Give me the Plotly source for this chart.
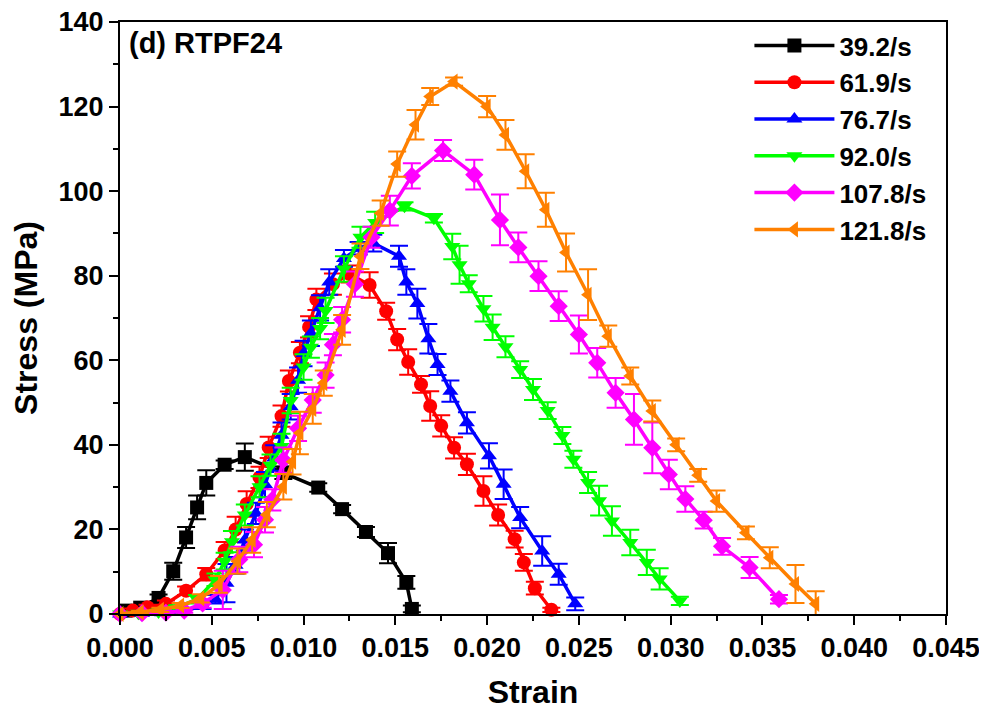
import plotly.graph_objects as go

# strain (x) / stress in MPa (y) / error bar (MPa) for each strain rate
x_39 = [0.0003, 0.0011, 0.0021, 0.0029, 0.0036, 0.0042, 0.0047, 0.0057, 0.0068, 0.0089,
        0.0108, 0.0121, 0.0134, 0.0146, 0.0156, 0.0159]
y_39 = [0.8, 1.5, 3.8, 10.1, 18.1, 25.2, 31.0, 35.3, 37.1, 33.4, 29.9, 24.8, 19.4, 14.4, 7.5, 1.2]
e_39 = [0.3, 0.5, 0.8, 2.0, 2.5, 2.8, 3.0, 1.0, 3.2, 1.5, 1.0, 1.0, 1.2, 2.4, 1.5, 0.8]

x_62 = [0.0000, 0.0007, 0.0015, 0.0025, 0.0036, 0.0047, 0.0057, 0.0063, 0.0069, 0.0076,
        0.0081, 0.0088, 0.0092, 0.0098, 0.0103, 0.0107, 0.0116, 0.0125, 0.0136, 0.0145,
        0.0151, 0.0157, 0.0164, 0.0169, 0.0175, 0.0182, 0.0189, 0.0198, 0.0206, 0.0215,
        0.0220, 0.0226, 0.0235]
y_62 = [0.0, 0.8, 1.6, 2.4, 5.5, 9.4, 15.0, 20.0, 26.0, 32.3, 39.4, 46.8, 55.1, 61.8, 67.9,
        74.4, 78.0, 80.4, 77.8, 71.6, 64.9, 59.6, 54.3, 49.2, 44.5, 39.3, 35.4, 29.1, 23.4,
        17.7, 12.2, 6.1, 1.0]
e_62 = [0.3, 0.5, 0.6, 0.8, 1.0, 1.5, 2.0, 3.0, 3.0, 2.5, 2.5, 2.5, 2.5, 2.5, 2.5, 2.5, 2.5,
        2.0, 3.0, 2.0, 2.5, 3.0, 2.0, 3.5, 2.5, 2.5, 2.5, 3.5, 2.5, 2.0, 2.0, 1.5, 0.5]

x_77 = [0.0000, 0.0012, 0.0023, 0.0033, 0.0045, 0.0052, 0.0058, 0.0063, 0.0068, 0.0074,
        0.0079, 0.0084, 0.0088, 0.0093, 0.0097, 0.0100, 0.0104, 0.0109, 0.0114, 0.0122,
        0.0130, 0.0138, 0.0152, 0.0156, 0.0162, 0.0168, 0.0173, 0.0180, 0.0189, 0.0201,
        0.0209, 0.0218, 0.0230, 0.0239, 0.0248]
y_77 = [0.0, 0.2, 0.3, 0.4, 2.0, 3.5, 7.3, 11.5, 17.5, 23.8, 30.6, 36.9, 42.3, 49.0, 55.3,
        61.6, 66.4, 72.4, 78.5, 84.1, 86.5, 87.7, 84.6, 78.5, 73.4, 65.1, 59.0, 52.7, 45.2,
        37.4, 30.7, 22.8, 14.9, 9.4, 2.4]
e_77 = [0.3, 0.3, 0.4, 0.5, 0.8, 1.0, 4.5, 2.0, 2.5, 2.5, 3.0, 3.0, 3.0, 3.0, 3.0, 3.0,
        3.0, 3.0, 3.0, 2.0, 1.5, 2.0, 2.5, 3.0, 3.5, 3.5, 2.5, 2.5, 2.5, 3.0, 3.5, 2.5, 3.5,
        2.5, 1.5]

x_92 = [0.0000, 0.0010, 0.0021, 0.0031, 0.0042, 0.0052, 0.0057, 0.0061, 0.0068, 0.0076,
        0.0082, 0.0088, 0.0093, 0.0100, 0.0104, 0.0109, 0.0112, 0.0122, 0.0131, 0.0139,
        0.0155, 0.0171, 0.0181, 0.0185, 0.0190, 0.0198, 0.0203, 0.0210, 0.0218, 0.0225,
        0.0233, 0.0241, 0.0247, 0.0255, 0.0261, 0.0268, 0.0278, 0.0287, 0.0294, 0.0305]
y_92 = [0.0, 0.2, 0.5, 1.5, 3.5, 8.1, 12.5, 17.1, 23.4, 30.1, 35.2, 39.6, 50.5, 58.4, 63.1,
        67.5, 71.8, 81.6, 89.1, 92.6, 96.4, 93.6, 86.9, 82.6, 78.1, 72.2, 67.8, 63.2, 57.8,
        53.1, 48.1, 42.2, 36.6, 31.1, 26.8, 22.0, 16.9, 12.2, 8.3, 3.1]
e_92 = [0.3, 0.3, 0.5, 0.5, 1.0, 1.5, 2.0, 2.5, 2.5, 2.5, 2.5, 3.0, 3.0, 3.0, 2.5, 2.5,
        3.0, 3.0, 2.5, 2.5, 1.0, 1.0, 3.0, 4.5, 2.0, 3.0, 3.0, 2.5, 2.0, 2.5, 2.0, 2.0, 2.0,
        2.5, 3.5, 3.5, 3.0, 3.0, 2.5, 1.0]

x_108 = [0.0000, 0.0012, 0.0025, 0.0035, 0.0045, 0.0056, 0.0065, 0.0073, 0.0079, 0.0083,
         0.0089, 0.0097, 0.0105, 0.0112, 0.0116, 0.0121, 0.0128, 0.0137, 0.0147, 0.0159,
         0.0176, 0.0193, 0.0207, 0.0217, 0.0228, 0.0239, 0.0250, 0.0260, 0.0270, 0.0280,
         0.0290, 0.0299, 0.0308, 0.0318, 0.0328, 0.0343, 0.0359]
y_108 = [0.0, 0.2, 0.3, 0.8, 2.5, 5.7, 12.9, 16.4, 22.3, 27.0, 36.4, 43.9, 50.6, 56.5, 63.7,
         69.6, 78.0, 89.1, 95.4, 103.6, 109.6, 103.9, 93.2, 86.7, 79.9, 72.8, 66.1, 59.4,
         52.3, 46.0, 39.3, 33.0, 27.2, 22.2, 16.0, 11.0, 3.5]
e_108 = [0.3, 0.3, 0.4, 0.5, 1.0, 4.5, 3.0, 3.0, 3.0, 2.5, 3.0, 3.0, 3.0, 3.0, 2.5, 3.0,
         3.0, 2.5, 3.5, 3.0, 2.5, 3.5, 6.0, 3.5, 3.5, 3.5, 4.5, 3.5, 3.5, 6.0, 6.0, 3.5, 3.0,
         2.0, 2.0, 2.5, 1.0]

x_122 = [0.0000, 0.0011, 0.0022, 0.0033, 0.0044, 0.0054, 0.0064, 0.0072, 0.0080, 0.0089,
         0.0094, 0.0098, 0.0105, 0.0111, 0.0121, 0.0131, 0.0142, 0.0151, 0.0161, 0.0169,
         0.0182, 0.0200, 0.0210, 0.0221, 0.0232, 0.0243, 0.0255, 0.0266, 0.0278, 0.0290,
         0.0303, 0.0315, 0.0325, 0.0341, 0.0354, 0.0368, 0.0379]
y_122 = [0.0, 0.4, 1.0, 2.0, 3.7, 7.0, 12.5, 17.5, 23.5, 30.1, 36.0, 42.8, 48.5, 54.6, 67.2,
         84.6, 94.8, 106.4, 115.7, 122.4, 125.9, 120.0, 113.3, 104.7, 95.6, 85.5, 75.5,
         65.7, 56.3, 48.0, 40.0, 32.8, 26.7, 19.2, 13.3, 7.1, 2.4]
e_122 = [0.3, 0.3, 0.5, 0.6, 1.0, 2.0, 3.0, 3.0, 3.0, 3.0, 3.0, 5.0, 3.5, 3.0, 3.5, 3.0,
         3.0, 3.0, 3.5, 2.0, 1.0, 2.5, 3.5, 4.0, 4.0, 4.5, 6.0, 2.5, 2.0, 2.5, 1.5, 1.5,
         2.5, 1.5, 2.5, 4.5, 3.0]

names = ['39.2/s', '61.9/s', '76.7/s', '92.0/s', '107.8/s', '121.8/s']
xs = [x_39, x_62, x_77, x_92, x_108, x_122]
ys = [y_39, y_62, y_77, y_92, y_108, y_122]
es = [e_39, e_62, e_77, e_92, e_108, e_122]
colors = ['#000000', '#FF0000', '#0000FF', '#00FF00', '#FF00FF', '#FF8000']
symbols = ['square', 'circle', 'triangle-up', 'triangle-down', 'diamond', 'triangle-left']

FONT = 'Liberation Sans'

traces = []
for name, x, y, e, c, s in zip(names, xs, ys, es, colors, symbols):
    traces.append(go.Scatter(
        x=x, y=y, name=name, mode='lines+markers',
        line=dict(color=c, width=3.5),
        marker=dict(color=c, symbol=s, size=14),
        error_y=dict(type='data', array=e, visible=True, color=c, thickness=2, width=9),
        cliponaxis=False,
    ))

fig = go.Figure(data=traces)

axis_common = dict(
    showline=True, linecolor='black', linewidth=2, mirror=True,
    ticks='outside', ticklen=9, tickwidth=2, tickcolor='black',
    showgrid=False, zeroline=False, automargin=False, ticklabeloverflow='allow',
    tickfont=dict(family=FONT, size=27, color='black', weight='bold'),
)

# page body has an 8px margin, so the figure is 8px smaller than the window
fig.update_layout(
    width=979, height=702,
    margin=dict(l=112, r=41, t=14, b=96),
    plot_bgcolor='white', paper_bgcolor='white',
    font=dict(family=FONT, color='black'),
    xaxis=dict(
        range=[0, 0.045], dtick=0.005, tickformat='.3f',
        minor=dict(dtick=0.0025, ticks='outside', ticklen=5, tickwidth=2, tickcolor='black'),
        title=dict(text='Strain', font=dict(family=FONT, size=32, weight='bold'), standoff=18),
        **axis_common,
    ),
    yaxis=dict(
        range=[0, 140], dtick=20,
        minor=dict(dtick=10, ticks='outside', ticklen=5, tickwidth=2, tickcolor='black'),
        title=dict(text='Stress (MPa)', font=dict(family=FONT, size=32, weight='bold'), standoff=12),
        **axis_common,
    ),
    legend=dict(
        x=0.762, y=1.0, xanchor='left', yanchor='top',
        bgcolor='rgba(0,0,0,0)', borderwidth=0,
        itemwidth=80,
        font=dict(family=FONT, size=26, color='black', weight='bold'),
    ),
    annotations=[dict(
        text='(d) RTPF24', xref='paper', yref='paper', x=0.008, y=0.995,
        xanchor='left', yanchor='top', showarrow=False,
        font=dict(family=FONT, size=29, color='black', weight='bold'),
    )],
)

fig.write_html('out.html')
